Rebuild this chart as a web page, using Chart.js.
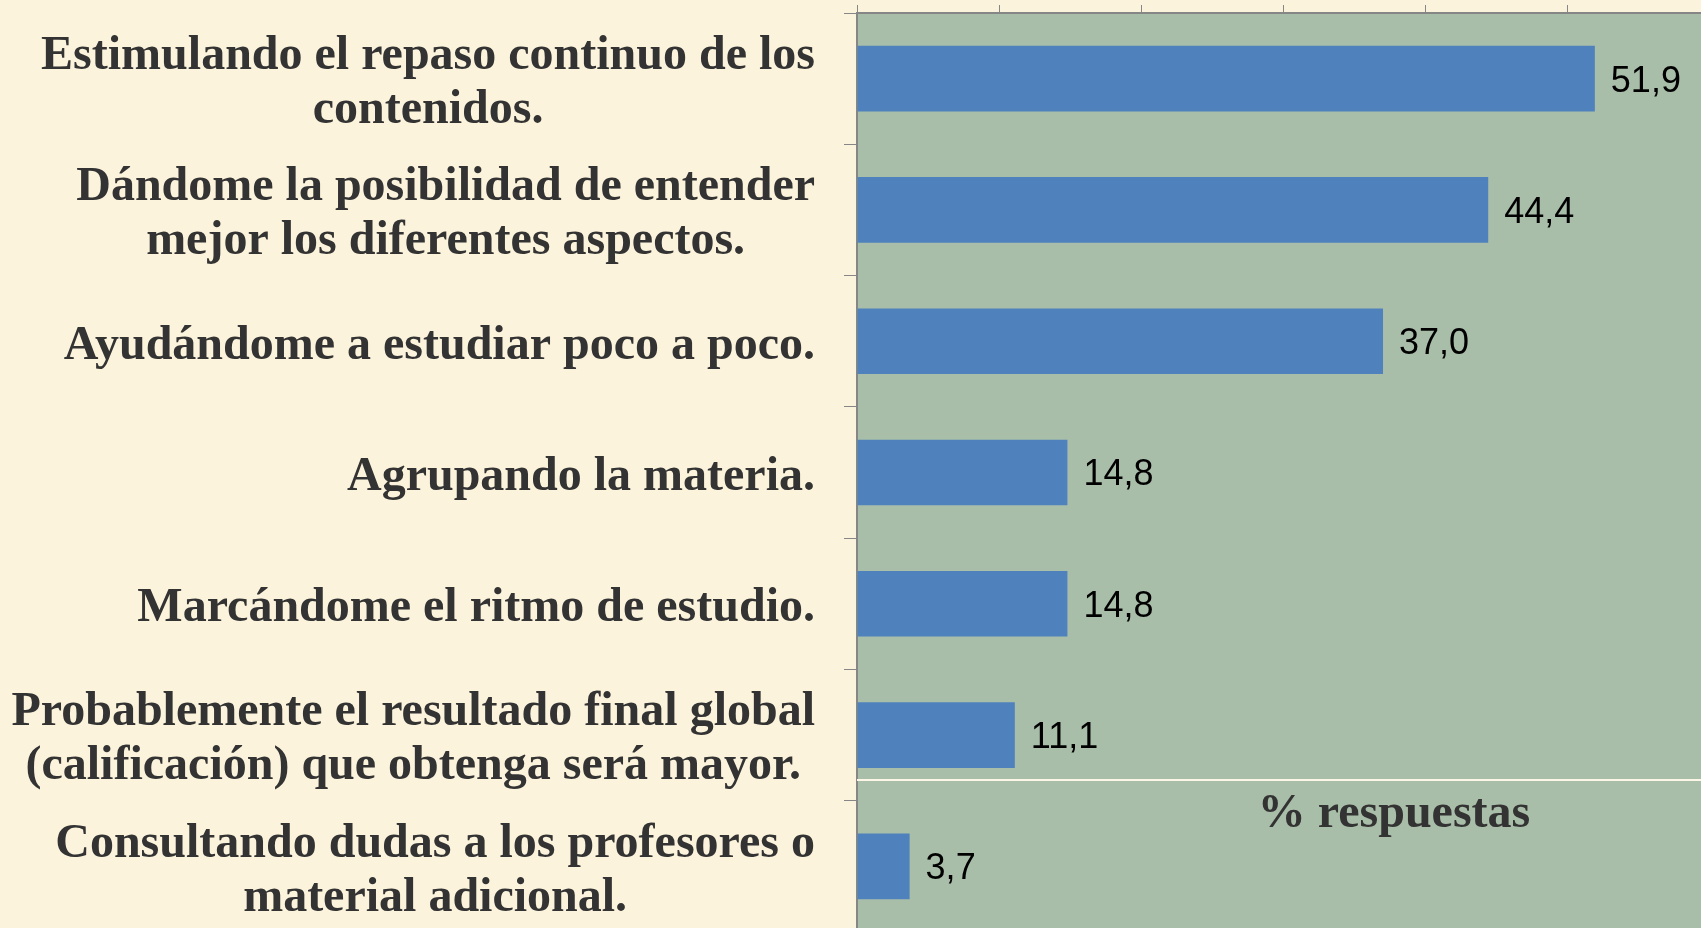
<!DOCTYPE html>
<html lang="es">
<head>
<meta charset="utf-8">
<title>% respuestas</title>
<script src="https://cdn.jsdelivr.net/npm/chart.js@4.4.1/dist/chart.umd.min.js"></script>
<style>
  html, body { margin: 0; padding: 0; overflow: hidden; background: #fcf3dc; }
  #wrap { position: absolute; left: 0; top: 0; }
</style>
</head>
<body>
<div id="wrap"><canvas id="chart" width="1710" height="932"></canvas></div>
<script>
const ctx = document.getElementById("chart").getContext("2d");

// Data
const categories = [
  ["Estimulando el repaso continuo de los", "contenidos."],
  ["Dándome la posibilidad de entender", "mejor los diferentes aspectos."],
  ["Ayudándome a estudiar poco a poco."],
  ["Agrupando la materia."],
  ["Marcándome el ritmo de estudio."],
  ["Probablemente el resultado final global", "(calificación) que obtenga será mayor."],
  ["Consultando dudas a los profesores o", "material adicional."]
];
const values = [51.9, 44.4, 37.0, 14.8, 14.8, 11.1, 3.7];
const axisMin = 0;
const axisMax = 60;
const axisStep = 10;
const axisTitle = "% respuestas";

// Styles
let barColor = "#4f81bd";
let plotColor = "#a9bea9";
let axisColor = "#868686";
let labelColor = "#333333";
let labelFont = "bold 48px 'Liberation Serif', 'Times New Roman', serif";
let labelLineHeight = 54;
let valueFont = "36px 'Liberation Sans', Arial, sans-serif";

const slideDecor = {
  id: "slideDecor",
  beforeDraw(chart) {
    const { ctx, chartArea } = chart;
    ctx.save();
    ctx.fillStyle = plotColor;
    ctx.fillRect(chartArea.left, chartArea.top, chartArea.right - chartArea.left, chartArea.bottom - chartArea.top);
    ctx.restore();
  },
  afterDatasetsDraw(chart) {
    const { ctx } = chart;
    const meta = chart.getDatasetMeta(0);
    ctx.save();
    ctx.font = valueFont;
    ctx.fillStyle = "#000000";
    ctx.textAlign = "left";
    ctx.textBaseline = "middle";
    meta.data.forEach((bar, i) => {
      ctx.fillText(values[i].toFixed(1).replace(".", ","), bar.x + 16, bar.y + 3);
    });
    ctx.restore();
  },
  afterDraw(chart) {
    const { ctx, chartArea } = chart;
    const yScale = chart.scales.y;
    ctx.save();

    // category labels: block right aligned, lines centred in the block
    ctx.font = labelFont;
    ctx.fillStyle = labelColor;
    ctx.textAlign = "center";
    ctx.textBaseline = "middle";
    const right = chartArea.left - 42;
    categories.forEach((lines, i) => {
      const yc = yScale.getPixelForValue(i);
      const w = Math.max(...lines.map(l => ctx.measureText(l).width));
      const cx = right - w / 2;
      lines.forEach((line, k) => {
        ctx.fillText(line, cx, yc + 5 + (k - (lines.length - 1) / 2) * labelLineHeight);
      });
    });

    // slide line and title box
    ctx.strokeStyle = "#fbf6e6";
    ctx.lineWidth = 2;
    ctx.beginPath();
    ctx.moveTo(chartArea.left, 780);
    ctx.lineTo(chartArea.right, 780);
    ctx.stroke();

    ctx.fillText(axisTitle, 1394, 815);
    ctx.restore();
  }
};

const data = {
  labels: categories,
  datasets: [
    {
      label: axisTitle,
      data: values,
      backgroundColor: barColor,
      borderWidth: 0,
      barPercentage: 0.5,
      categoryPercentage: 1.0,
    },
  ],
};

const options = {
  indexAxis: "y",
  responsive: false,
  animation: false,
  layout: {
    padding: { left: 844, top: 5, right: 0, bottom: 0 },
  },
  plugins: {
    legend: { display: false },
    tooltip: { enabled: false },
  },
  scales: {
    x: {
      position: "top",
      min: axisMin,
      max: axisMax,
      ticks: { display: false, stepSize: axisStep },
      grid: { drawOnChartArea: false, color: axisColor, tickLength: 8 },
      border: { color: axisColor, width: 2 },
    },
    y: {
      position: "left",
      ticks: { display: false },
      grid: { drawOnChartArea: false, color: axisColor, tickLength: 13, offset: true },
      border: { color: axisColor, width: 2 },
    },
  },
};

new Chart(ctx, {
  type: "bar",
  data: data,
  options: options,
  plugins: [slideDecor],
});
</script>
</body>
</html>
